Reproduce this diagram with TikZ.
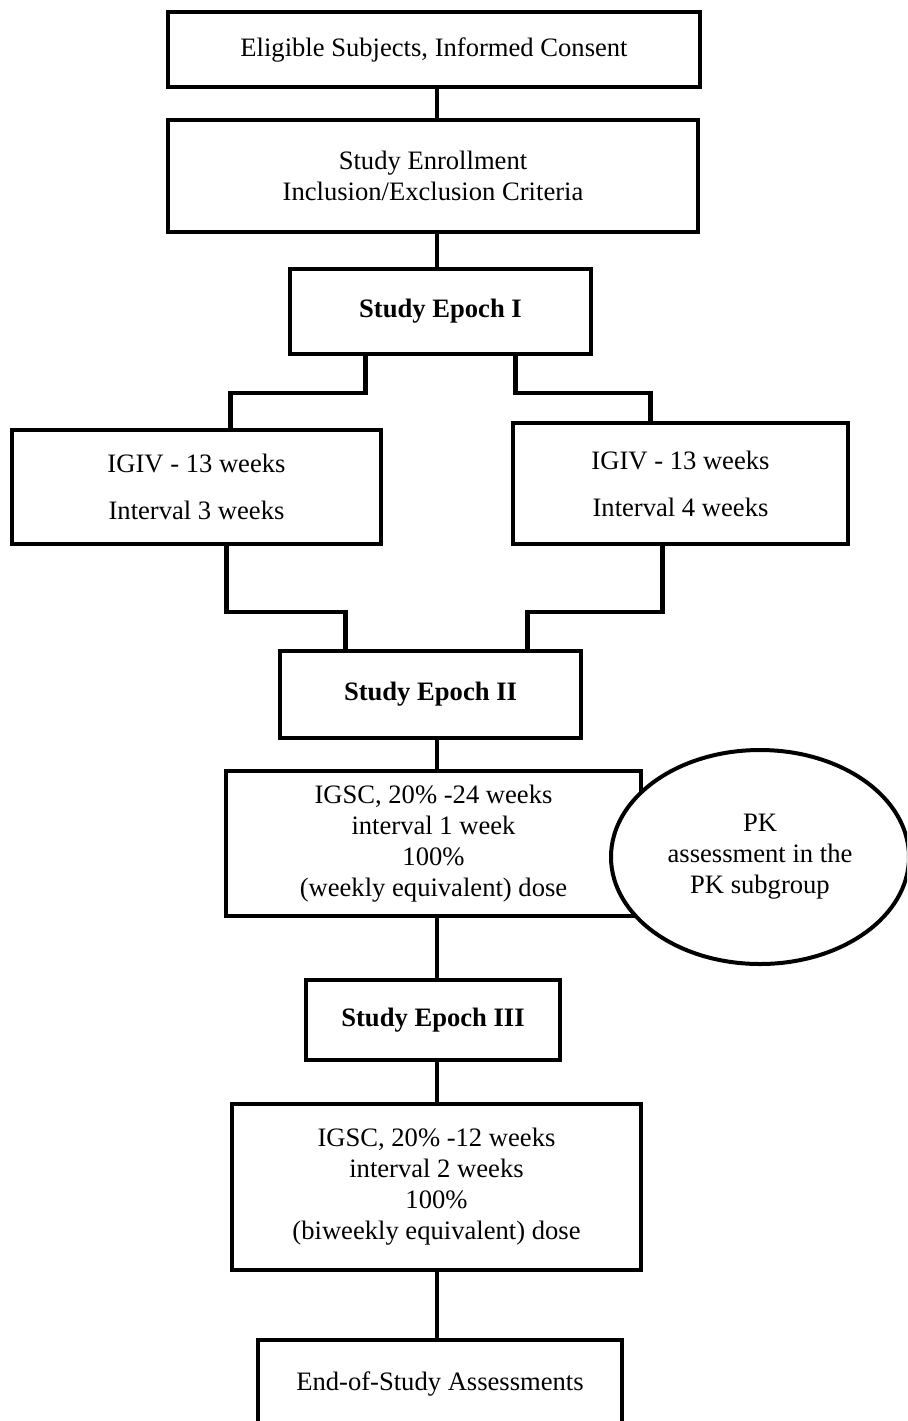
\documentclass[tikz,border=0pt]{standalone}
\usepackage{fontspec}
\setmainfont{Liberation Serif}
\usepackage{tikz}
\usetikzlibrary{calc,shapes.geometric}

\begin{document}
\begin{tikzpicture}[x=0.5pt,y=-0.5pt,
    box/.style={draw,line width=2pt,fill=white,align=center,inner sep=0pt,
      font=\fontsize{13.3}{15.5}\selectfont},
    epoch/.style={box,font=\fontsize{13.3}{15.5}\selectfont\bfseries},
    link/.style={line width=2.4pt}]
      \useasboundingbox (0,0) rectangle (907,1421);
      \clip (0,0) rectangle (907,1421);
      \coordinate (spine) at (437,0);
      \node [box,minimum width=266pt,minimum height=37.5pt] (consent) at (434,49.5) {Eligible Subjects, Informed Consent};
      \node [box,minimum width=265pt,minimum height=56pt] (enroll) at (433,176) {Study Enrollment\\Inclusion/Exclusion Criteria};
      \node [epoch,minimum width=150.5pt,minimum height=42.5pt] (epochI) at (440.5,311.5) {Study Epoch I};
      \node [box,minimum width=184.5pt,minimum height=57pt] (igivL) at (196.5,487) {IGIV - 13 weeks\\[8pt]Interval 3 weeks};
      \node [box,minimum width=167.5pt,minimum height=60.5pt] (igivR) at (680.5,483.5) {IGIV - 13 weeks\\[8pt]Interval 4 weeks};
      \node [epoch,minimum width=150.5pt,minimum height=43.5pt] (epochII) at (430.5,694.5) {Study Epoch II};
      \node [box,minimum width=207.5pt,minimum height=72.5pt] (igscA) at (433.5,843.5) {IGSC, 20\% -24 weeks\\interval 1 week\\100\%\\(weekly equivalent) dose};
      \node [box,ellipse,minimum width=149pt,minimum height=107pt] (pk) at (760,857) {PK\\assessment in the\\PK subgroup};
      \node [epoch,minimum width=127pt,minimum height=40pt] (epochIII) at (433,1020) {Study Epoch III};
      \node [box,minimum width=204.5pt,minimum height=83pt] (igscB) at (436.5,1187) {IGSC, 20\% -12 weeks\\interval 2 weeks\\100\%\\(biweekly equivalent) dose};
      \node [box,minimum width=182pt,minimum height=44pt] (eos) at (440,1384) {End-of-Study Assessments};

      \draw [link] (consent.south -| spine) -- (enroll.north -| spine);
      \draw [link] (enroll.south -| spine) -- (epochI.north -| spine);
      \draw [link] ($(epochI.south)+(-75,0)$) -- ++(0,37) -| ($(igivL.north)+(34,0)$);
      \draw [link] ($(epochI.south)+(75,0)$) -- ++(0,37) -| ($(igivR.north)+(-30,0)$);
      \draw [link] ($(igivL.south)+(30,0)$) -- ++(0,66) -| ($(epochII.north)+(-85,0)$);
      \draw [link] ($(igivR.south)+(-18,0)$) -- ++(0,66) -| ($(epochII.north)+(97,0)$);
      \draw [link] (epochII.south -| spine) -- (igscA.north -| spine);
      \draw [link] (igscA.south -| spine) -- (epochIII.north -| spine);
      \draw [link] (epochIII.south -| spine) -- (igscB.north -| spine);
      \draw [link] (igscB.south -| spine) -- (eos.north -| spine);
    \end{tikzpicture}
\end{document}
